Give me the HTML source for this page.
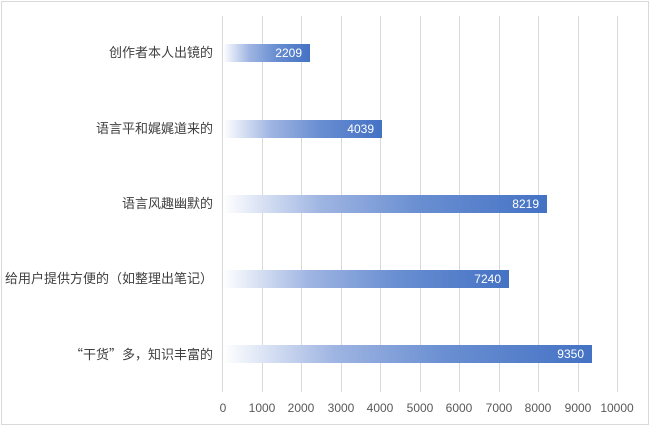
<!DOCTYPE html>
<html><head><meta charset="utf-8"><style>
body{margin:0;width:650px;height:427px;background:#fff;position:relative;font-family:"Liberation Sans","Noto Sans CJK SC",sans-serif;overflow:hidden}
.frame{position:absolute;left:1px;top:1px;width:646px;height:422px;border:1px solid #d9d9d9}
.g{position:absolute;top:16px;height:376px;width:1px;background:#d9d9d9}
.bar{position:absolute;left:223px;height:18px;background:linear-gradient(to right,#ffffff 0%,#9fb5e2 30%,#6a8fd2 60%,#4472c4 100%)}
.v{position:absolute;right:8px;top:0;line-height:18px;color:#fff;font-size:12px}
.lab{position:absolute;right:437px;font-size:13px;color:#404040;line-height:18px;white-space:nowrap}
.t{position:absolute;top:401px;font-size:12px;color:#595959;width:50px;text-align:center;margin-left:-25px}
.cjk{font-family:"Noto Sans CJK SC",sans-serif}
</style></head><body>
<div class="frame"></div>
<div class="g" style="left:222px"></div><div class="g" style="left:262px"></div><div class="g" style="left:301px"></div><div class="g" style="left:341px"></div><div class="g" style="left:380px"></div><div class="g" style="left:420px"></div><div class="g" style="left:459px"></div><div class="g" style="left:499px"></div><div class="g" style="left:538px"></div><div class="g" style="left:578px"></div><div class="g" style="left:617px"></div>
<div class="lab" style="top:44px">创作者本人出镜的</div>
<div class="bar" style="top:44px;width:87px"><span class="v">2209</span></div>
<div class="lab" style="top:120px">语言平和娓娓道来的</div>
<div class="bar" style="top:120px;width:159px"><span class="v">4039</span></div>
<div class="lab" style="top:195px">语言风趣幽默的</div>
<div class="bar" style="top:195px;width:324px"><span class="v">8219</span></div>
<div class="lab" style="top:270px">给用户提供方便的（如整理出笔记）</div>
<div class="bar" style="top:270px;width:286px"><span class="v">7240</span></div>
<div class="lab" style="top:345px"><span class="cjk">“</span>干货<span class="cjk">”</span>多，知识丰富的</div>
<div class="bar" style="top:345px;width:369px"><span class="v">9350</span></div>
<div class="t" style="left:223px">0</div><div class="t" style="left:262px">1000</div><div class="t" style="left:301px">2000</div><div class="t" style="left:341px">3000</div><div class="t" style="left:380px">4000</div><div class="t" style="left:420px">5000</div><div class="t" style="left:459px">6000</div><div class="t" style="left:499px">7000</div><div class="t" style="left:538px">8000</div><div class="t" style="left:578px">9000</div><div class="t" style="left:617px">10000</div>
</body></html>
